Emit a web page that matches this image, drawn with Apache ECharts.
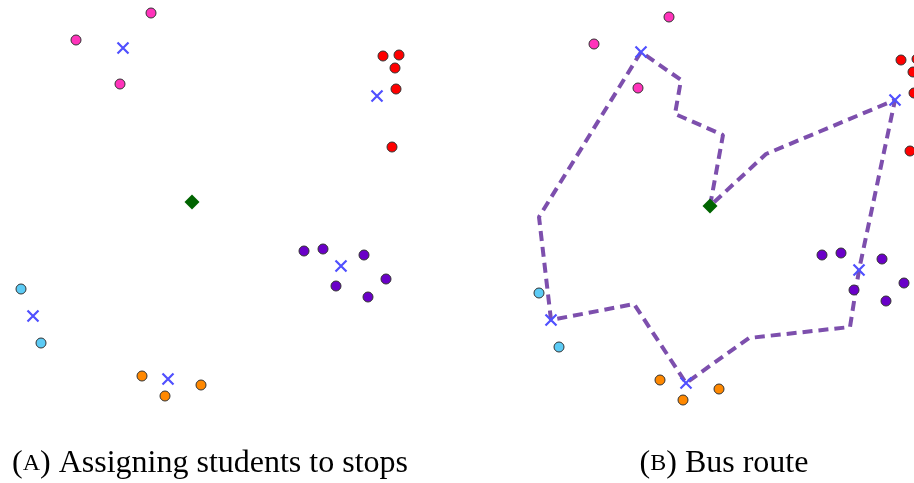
<!DOCTYPE html>
<html>
<head>
<meta charset="utf-8">
<script src="https://cdn.jsdelivr.net/npm/echarts@6/dist/echarts.min.js"></script>
<style>
  html, body { margin: 0; padding: 0; background: #fff; }
  #chart { width: 914px; height: 483px; }
</style>
</head>
<body>
<div id="chart"></div>
<script>
  // student homes, grouped by the stop they are assigned to (x, y in panel units, y grows downward)
  const pinkStudents = [[151, 13], [76, 40], [120, 84]];
  const redStudents = [[383, 56], [399, 55], [395, 68], [396, 89], [392, 147]];
  const purpleStudents = [[304, 251], [323, 249], [364, 255], [386, 279], [336, 286], [368, 297]];
  const cyanStudents = [[21, 289], [41, 343]];
  const orangeStudents = [[142, 376], [165, 396], [201, 385]];
  // bus stops and the school (depot)
  const stops = [[123, 48], [377, 96], [341, 266], [33, 316], [168, 379]];
  const depot = [[192, 202]];
  // bus route, starting and ending at the depot
  const route = [
    [192, 202], [205, 131], [157, 110], [163, 76], [123, 48],
    [21, 213], [33, 316], [116, 300], [168, 379], [231, 334],
    [332, 323], [341, 266], [377, 96], [248, 150], [192, 202]
  ];
  const captions = ['({sc|A}) Assigning students to stops', '({sc|B}) Bus route'];

  const chart = echarts.init(document.getElementById('chart'));

  const groups = [
    { data: pinkStudents, color: '#ff33bb' },
    { data: redStudents, color: '#ff0000' },
    { data: purpleStudents, color: '#6a00c8' },
    { data: cyanStudents, color: '#5ccbf5' },
    { data: orangeStudents, color: '#ff8800' }
  ];

  const crossPath = 'path://M0,0L10,10M10,0L0,10';

  function panelSeries(idx) {
    const list = [];
    groups.forEach(g => {
      list.push({
        type: 'scatter',
        xAxisIndex: idx,
        yAxisIndex: idx,
        data: g.data,
        symbol: 'circle',
        symbolSize: 10,
        clip: false,
        silent: true,
        z: 3,
        itemStyle: { color: g.color, borderColor: '#333', borderWidth: 1, opacity: 1 }
      });
    });
    list.push({
      type: 'scatter',
      xAxisIndex: idx,
      yAxisIndex: idx,
      data: stops,
      symbol: crossPath,
      symbolSize: 11,
      clip: false,
      silent: true,
      z: 4,
      itemStyle: { color: 'rgba(0,0,0,0)', borderColor: '#5050ff', borderWidth: 2.2, opacity: 1 }
    });
    list.push({
      type: 'scatter',
      xAxisIndex: idx,
      yAxisIndex: idx,
      data: depot,
      symbol: 'diamond',
      symbolSize: [15, 15],
      clip: false,
      silent: true,
      z: 4,
      itemStyle: { color: '#006400', opacity: 1 }
    });
    return list;
  }

  const series = panelSeries(0).concat([{
    type: 'line',
    xAxisIndex: 1,
    yAxisIndex: 1,
    data: route,
    symbol: 'none',
    smooth: false,
    clip: false,
    silent: true,
    z: 2,
    lineStyle: { color: '#7d4fad', width: 4, type: [10, 6] }
  }]).concat(panelSeries(1));

  // right panel is cut off by the page edge, so its grid only spans what is visible
  chart.setOption({
    backgroundColor: '#ffffff',
    animation: false,
    grid: [
      { left: 0, top: 0, width: 460, height: 420 },
      { left: 518, top: 4, width: 396, height: 420 }
    ],
    xAxis: [
      { type: 'value', gridIndex: 0, min: 0, max: 460, show: false },
      { type: 'value', gridIndex: 1, min: 0, max: 396, show: false }
    ],
    yAxis: [
      { type: 'value', gridIndex: 0, min: 0, max: 420, inverse: true, show: false },
      { type: 'value', gridIndex: 1, min: 0, max: 420, inverse: true, show: false }
    ],
    graphic: [
      {
        type: 'text', x: 210, y: 480,
        style: {
          text: captions[0], fill: '#000', fontSize: 32, fontFamily: 'Liberation Serif',
          textAlign: 'center', textVerticalAlign: 'bottom',
          rich: { sc: { fontSize: 24, fontFamily: 'Liberation Serif' } }
        }
      },
      {
        type: 'text', x: 724, y: 480,
        style: {
          text: captions[1], fill: '#000', fontSize: 32, fontFamily: 'Liberation Serif',
          textAlign: 'center', textVerticalAlign: 'bottom',
          rich: { sc: { fontSize: 24, fontFamily: 'Liberation Serif' } }
        }
      }
    ],
    series: series
  });
</script>
</body>
</html>
